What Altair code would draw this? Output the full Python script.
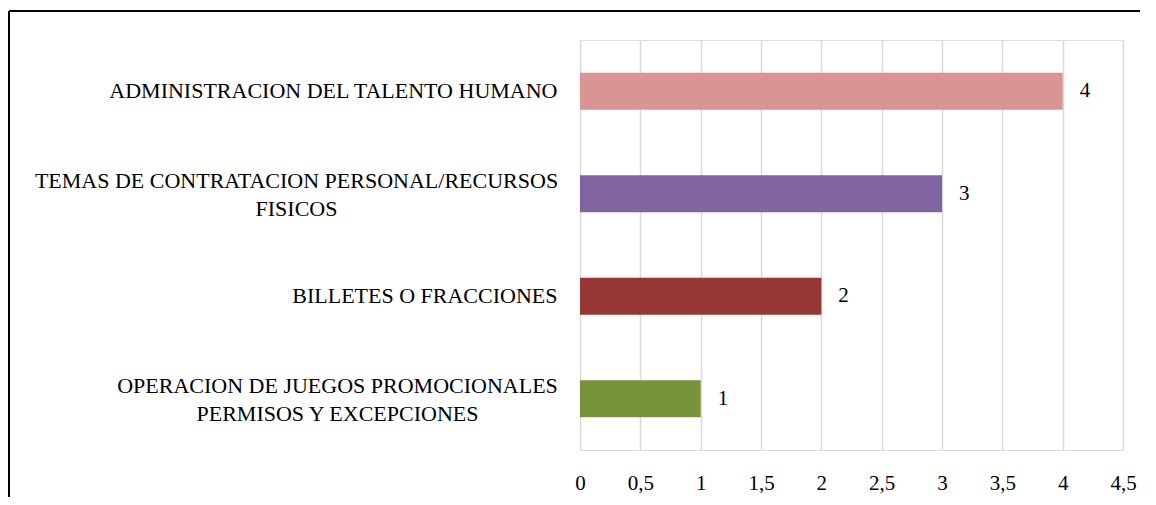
import altair as alt
import pandas as pd

categories = [
    "ADMINISTRACION DEL TALENTO HUMANO",
    "TEMAS DE CONTRATACION  PERSONAL/RECURSOS|FISICOS",
    "BILLETES O FRACCIONES",
    "OPERACION DE JUEGOS PROMOCIONALES|PERMISOS Y EXCEPCIONES",
]
values = [4, 3, 2, 1]
colors = ["#D99594", "#8064A2", "#953735", "#77933C"]
tick_values = [0, 0.5, 1, 1.5, 2, 2.5, 3, 3.5, 4, 4.5]

df = pd.DataFrame({"cat": categories, "val": values, "color": colors})

FONT = "Liberation Serif"
FS = 22

is_multi = "indexof(datum.value, '|') >= 0"
is_temas = "indexof(datum.value, 'TEMAS') == 0"

y_enc = alt.Y(
    "cat:N",
    sort=None,
    title=None,
    scale=alt.Scale(paddingInner=0.64, paddingOuter=0.32),
    axis=alt.Axis(
        domain=False,
        ticks=False,
        labelPadding={
            "condition": [
                {"test": is_temas, "value": 284},
                {"test": is_multi, "value": 243},
            ],
            "value": 23,
        },
        labelAlign={"condition": {"test": is_multi, "value": "center"}, "value": "right"},
        labelOffset={"condition": {"test": is_multi, "value": -13}, "value": 0},
        labelFont=FONT,
        labelFontSize=FS,
        labelColor="#000000",
        labelLimit=700,
        labelLineHeight=28,
        labelExpr="split(datum.label, '|')",
    ),
)
x_enc = alt.X(
    "val:Q",
    title=None,
    scale=alt.Scale(domain=[0, 4.5], nice=False),
    axis=alt.Axis(
        values=tick_values,
        domain=False,
        ticks=False,
        grid=True,
        gridColor="#d9d9d9",
        gridWidth=1.5,
        labelPadding=22,
        labelFont=FONT,
        labelFontSize=21,
        labelColor="#000000",
        labelExpr="replace(format(datum.value, ''), '.', ',')",
        labelFlush=False,
    ),
)

bars = alt.Chart(df).mark_bar().encode(
    y=y_enc,
    x=x_enc,
    color=alt.Color("color:N", scale=None),
)

labels = alt.Chart(df).mark_text(
    align="left", baseline="middle", dx=17, font=FONT, fontSize=21, color="#000000"
).encode(
    y=alt.Y("cat:N", sort=None),
    x=alt.X("val:Q"),
    text=alt.Text("val:Q"),
)

border_top = alt.Chart(df).mark_rule(color="#000000", strokeWidth=2).encode(
    x=alt.value(-571), x2=alt.value(560), y=alt.value(-29)
)
border_left = alt.Chart(df).mark_rule(color="#000000", strokeWidth=2).encode(
    x=alt.value(-571), y=alt.value(-29), y2=alt.value(460)
)

chart = alt.layer(bars, labels, border_top, border_left).properties(
    width=543,
    height=410,
    autosize=alt.AutoSizeParams(type="none"),
    padding={"left": 572, "top": 32, "right": 25, "bottom": 47},
).configure_view(stroke=None).configure(background="#ffffff")

chart.save("out.html", embed_options={"renderer": "svg", "actions": False})
